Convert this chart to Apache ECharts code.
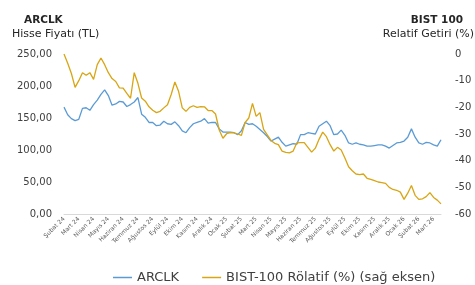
<!DOCTYPE html>
<html>
<head>
<meta charset="utf-8">
<script src="https://cdn.jsdelivr.net/npm/echarts@6/dist/echarts.min.js"></script>
<style>
    html, body { margin: 0; padding: 0; background: #fff; }
    #main { width: 475px; height: 285px; }
</style>
</head>
<body>
<div id="main"></div>
<script>
// ay etiketleri (her ay 4 nokta)
var months = ['Şubat 24', 'Mart 24', 'Nisan 24', 'Mayıs 24', 'Haziran 24', 'Temmuz 24', 'Ağustos 24',
    'Eylül 24', 'Ekim 24', 'Kasım 24', 'Aralık 24', 'Ocak 25', 'Şubat 25', 'Mart 25', 'Nisan 25',
    'Mayıs 25', 'Haziran 25', 'Temmuz 25', 'Ağustos 25', 'Eylül 25', 'Ekim 25', 'Kasım 25',
    'Aralık 25', 'Ocak 26', 'Şubat 26', 'Mart 26'];

// ARCLK hisse fiyatı (TL) - sol eksen
var arclk = [167, 155, 149, 146, 148, 165, 166, 162, 171, 178, 187, 194, 185, 170, 172, 176,
    175, 168, 171, 175, 182, 156, 151, 143, 143, 138, 139, 145, 141, 140, 144, 138,
    130, 127, 135, 141, 143, 145, 149, 142, 143, 143, 133, 128, 128, 128, 127, 124,
    130, 143, 140, 141, 137, 132, 127, 121, 114, 117, 120, 112, 106, 108, 110, 109,
    124, 124, 127, 126, 125, 137, 141, 145, 138, 124, 125, 131, 123, 111, 109, 111,
    109, 108, 106, 106, 107, 108, 108, 106, 103, 107, 111, 112, 114, 120, 133, 120,
    111, 109, 112, 111, 108, 106, 116];

// BIST-100 rölatif getiri (%) - sağ eksen
var bist = [0, -3.5, -7.3, -12.5, -10, -7, -8, -7, -9.5, -4, -1.5, -4, -7, -9.2, -10.3, -12.7,
    -12.8, -14.8, -16.6, -7, -11, -16.5, -17.7, -19.8, -21.1, -22, -21.5, -20.2, -19, -15.2, -10.5, -14,
    -20.2, -21.5, -20, -19.4, -20, -19.7, -19.8, -21.2, -21.2, -22.5, -28.5, -31.6, -29.9, -29.5, -29.6, -30,
    -30.5, -25.7, -24, -18.5, -23.4, -22, -28.3, -30.3, -32.4, -33.5, -34, -36.4, -36.9, -37.1, -36.4, -33.3,
    -33.2, -33.2, -35, -36.8, -35.3, -32, -29.3, -31, -34, -36.4, -35, -36, -39, -42.3, -43.8, -45,
    -45.2, -45, -46.6, -47, -47.5, -48, -48.2, -48.5, -50, -50.8, -51.1, -51.8, -54.5, -52.2, -49.3, -53,
    -54.5, -54.3, -53.5, -52, -53.8, -54.8, -56.2];

var xData = [];
for (var i = 0; i < arclk.length; i++) {
    xData.push(i % 4 === 0 ? months[i / 4] : '');
}

var chart = echarts.init(document.getElementById('main'));
var font = '"DejaVu Sans", "Noto Sans", sans-serif';
var option = {
    animation: false,
    textStyle: { fontFamily: font },
    title: [
        {
            text: 'ARCLK',
            left: 19, top: 10,
            textStyle: { fontSize: 10.5, fontWeight: 'bold', color: '#262626', fontFamily: font }
        },
        {
            text: 'Hisse Fiyatı (TL)',
            left: 7, top: 24,
            textStyle: { fontSize: 11, fontWeight: 'normal', color: '#262626', fontFamily: font }
        },
        {
            text: 'BIST 100',
            right: 7, top: 10,
            textStyle: { fontSize: 10.5, fontWeight: 'bold', color: '#262626', fontFamily: font }
        },
        {
            text: 'Relatif Getiri (%)',
            right: -4, top: 24,
            textStyle: { fontSize: 11, fontWeight: 'normal', color: '#262626', fontFamily: font }
        }
    ],
    legend: {
        top: 266,
        left: 108,
        icon: 'rect',
        itemWidth: 19,
        itemHeight: 1.5,
        itemGap: 23,
        textStyle: { fontSize: 13, color: '#404040', fontFamily: font },
        data: ['ARCLK', 'BIST-100 Rölatif (%) (sağ eksen)']
    },
    grid: {
        left: 64,
        right: 34,
        top: 54,
        bottom: 71
    },
    xAxis: {
        type: 'category',
        boundaryGap: false,
        data: xData,
        axisLine: { lineStyle: { color: '#d9d9d9', width: 1 } },
        axisTick: { show: false },
        axisLabel: {
            interval: 0,
            rotate: 45,
            fontSize: 6,
            color: '#595959',
            margin: 4
        }
    },
    yAxis: [
        {
            type: 'value',
            min: 0,
            max: 250,
            interval: 50,
            splitLine: { show: false },
            axisLine: { show: false },
            axisTick: { show: false },
            axisLabel: {
                fontSize: 10,
                color: '#404040',
                margin: 12,
                formatter: function (v) { return v.toFixed(2).replace('.', ','); }
            }
        },
        {
            type: 'value',
            min: -60,
            max: 0,
            interval: 10,
            position: 'right',
            splitLine: { show: false },
            axisLine: { show: false },
            axisTick: { show: false },
            axisLabel: {
                fontSize: 10,
                color: '#404040',
                margin: 14
            }
        }
    ],
    series: [
        {
            name: 'ARCLK',
            type: 'line',
            yAxisIndex: 0,
            symbol: 'none',
            data: arclk,
            itemStyle: { color: '#5b9bd5' },
            lineStyle: { color: '#5b9bd5', width: 1.3 }
        },
        {
            name: 'BIST-100 Rölatif (%) (sağ eksen)',
            type: 'line',
            yAxisIndex: 1,
            symbol: 'none',
            data: bist,
            itemStyle: { color: '#d9a514' },
            lineStyle: { color: '#d9a514', width: 1.3 }
        }
    ]
};
chart.setOption(option);
</script>
</body>
</html>
